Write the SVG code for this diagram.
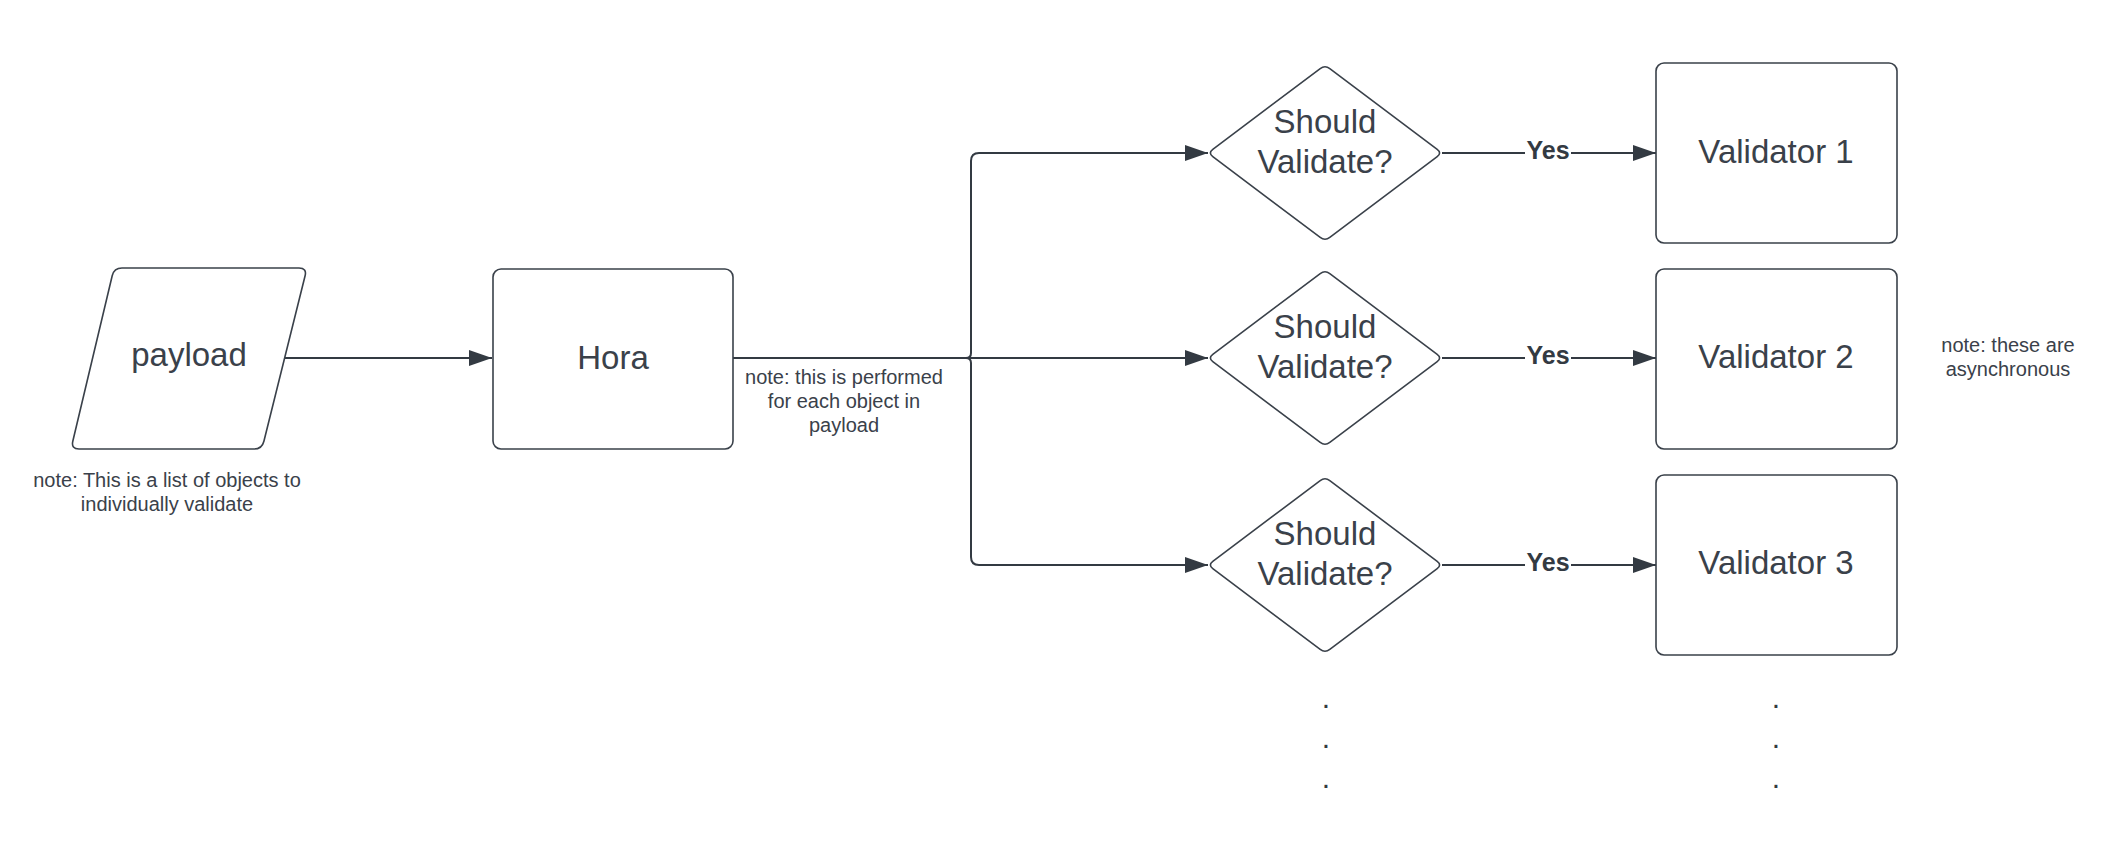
<svg xmlns="http://www.w3.org/2000/svg" width="2118" height="856" viewBox="0 0 2118 856">
<defs>
<style>
.shape{fill:#ffffff;stroke:#3a414a;stroke-width:1.6}
.conn{fill:none;stroke:#333a42;stroke-width:2}
.big{font-family:"Liberation Sans",Arial,sans-serif;font-size:33px;fill:#3a414a;text-anchor:middle}
.note{font-family:"Liberation Sans",Arial,sans-serif;font-size:20px;fill:#3a414a;text-anchor:middle}
.yes{font-family:"Liberation Sans",Arial,sans-serif;font-size:25px;font-weight:bold;fill:#333a42;text-anchor:middle}
.dot{font-family:"Liberation Sans",Arial,sans-serif;font-size:30px;fill:#333a42;text-anchor:middle}
</style>
<marker id="arrow" markerUnits="userSpaceOnUse" markerWidth="24" markerHeight="18" refX="23" refY="8" orient="auto">
<path d="M0,0 L23,8 L0,16 Z" fill="#333a42"/>
</marker>
<path id="diamond" d="M -4.8 -84.4 Q 0 -88 4.8 -84.4 L 112.2 -3.6 Q 117 0 112.2 3.6 L 4.8 84.4 Q 0 88 -4.8 84.4 L -112.2 3.6 Q -117 0 -112.2 -3.6 Z"/>
</defs>
<rect width="2118" height="856" fill="#ffffff"/>

<g id="connectors">
<path class="conn" d="M 285 358 L 492 358" marker-end="url(#arrow)"/>
<path class="conn" d="M 733 358 L 1208 358" marker-end="url(#arrow)"/>
<path class="conn" d="M 733 358 L 966 358 Q 971 358 971 353 L 971 161 Q 971 153 979 153 L 1208 153" marker-end="url(#arrow)"/>
<path class="conn" d="M 966 358 Q 971 358 971 363 L 971 557 Q 971 565 979 565 L 1208 565" marker-end="url(#arrow)"/>
<path class="conn" d="M 1442 153 L 1525 153"/>
<path class="conn" d="M 1571 153 L 1656 153" marker-end="url(#arrow)"/>
<path class="conn" d="M 1442 358 L 1525 358"/>
<path class="conn" d="M 1571 358 L 1656 358" marker-end="url(#arrow)"/>
<path class="conn" d="M 1442 565 L 1525 565"/>
<path class="conn" d="M 1571 565 L 1656 565" marker-end="url(#arrow)"/>
<text class="yes" x="1548" y="159">Yes</text>
<text class="yes" x="1548" y="364">Yes</text>
<text class="yes" x="1548" y="571">Yes</text>
</g>

<g id="payload">
<path class="shape" d="M 122 268 L 299 268 Q 307 268 305.1 275.8 L 263.9 441.2 Q 262 449 254 449 L 79 449 Q 71 449 72.8 441.2 L 112.2 275.8 Q 114 268 122 268 Z"/>
<text class="big" x="189" y="366">payload</text>
</g>

<g id="note-payload">
<text class="note" x="167" y="487">note: This is a list of objects to</text>
<text class="note" x="167" y="511">individually validate</text>
</g>

<g id="hora">
<rect class="shape" x="493" y="269" width="240" height="180" rx="8"/>
<text class="big" x="613" y="369">Hora</text>
</g>

<g id="note-hora">
<text class="note" x="844" y="384">note: this is performed</text>
<text class="note" x="844" y="408">for each object in</text>
<text class="note" x="844" y="432">payload</text>
</g>

<g id="decision-1">
<use href="#diamond" class="shape" x="1325" y="153"/>
<text class="big" x="1325" y="133">Should</text>
<text class="big" x="1325" y="173">Validate?</text>
</g>

<g id="decision-2">
<use href="#diamond" class="shape" x="1325" y="358"/>
<text class="big" x="1325" y="338">Should</text>
<text class="big" x="1325" y="378">Validate?</text>
</g>

<g id="decision-3">
<use href="#diamond" class="shape" x="1325" y="565"/>
<text class="big" x="1325" y="545">Should</text>
<text class="big" x="1325" y="585">Validate?</text>
</g>

<g id="validator-1">
<rect class="shape" x="1656" y="63" width="241" height="180" rx="8"/>
<text class="big" x="1776" y="163">Validator 1</text>
</g>

<g id="validator-2">
<rect class="shape" x="1656" y="269" width="241" height="180" rx="8"/>
<text class="big" x="1776" y="368">Validator 2</text>
</g>

<g id="validator-3">
<rect class="shape" x="1656" y="475" width="241" height="180" rx="8"/>
<text class="big" x="1776" y="574">Validator 3</text>
</g>

<g id="note-validators">
<text class="note" x="2008" y="352">note: these are</text>
<text class="note" x="2008" y="376">asynchronous</text>
</g>

<g id="ellipsis-decisions">
<text class="dot" x="1326" y="708">.</text>
<text class="dot" x="1326" y="748">.</text>
<text class="dot" x="1326" y="788">.</text>
</g>

<g id="ellipsis-validators">
<text class="dot" x="1776" y="708">.</text>
<text class="dot" x="1776" y="748">.</text>
<text class="dot" x="1776" y="788">.</text>
</g>
</svg>
